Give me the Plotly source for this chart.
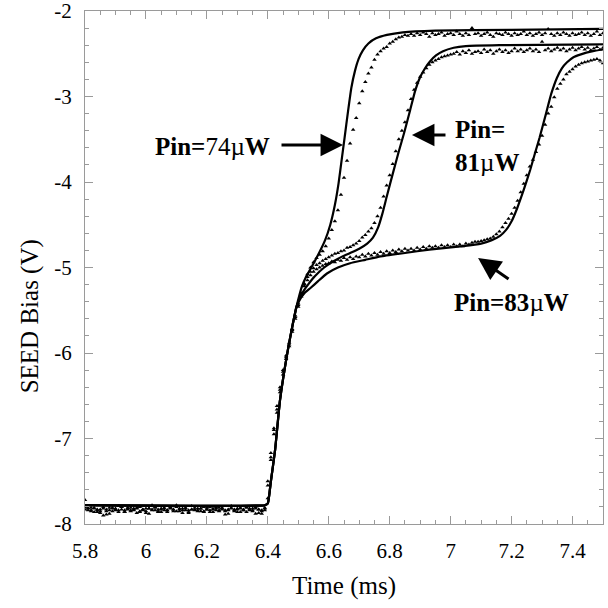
import numpy as np
import plotly.graph_objects as go

# ---- axis ticks -------------------------------------------------------------
X_TICKS = [5.8, 6.0, 6.2, 6.4, 6.6, 6.8, 7.0, 7.2, 7.4]
X_LABELS = ["5.8", "6", "6.2", "6.4", "6.6", "6.8", "7", "7.2", "7.4"]
Y_TICKS = [-8, -7, -6, -5, -4, -3, -2]
Y_LABELS = ["-8", "-7", "-6", "-5", "-4", "-3", "-2"]

# ---- simulated switching curves (solid lines) -------------------------------
# common turn-on edge shared by all three input powers
edge_t = [5.80, 6.39, 6.40, 6.41, 6.424, 6.44, 6.466, 6.482, 6.494]
edge_v = [-7.78, -7.78, -7.76, -7.50, -7.13, -6.55, -5.96, -5.66, -5.46]

sim74_t = edge_t + [6.503, 6.512, 6.524, 6.538, 6.561, 6.588, 6.605, 6.620, 6.632,
                    6.642, 6.652, 6.663, 6.674, 6.686, 6.698, 6.712, 6.730, 6.755,
                    6.791, 6.843, 6.95, 7.20, 7.50]
sim74_v = edge_v + [-5.33, -5.22, -5.12, -5.03, -4.88, -4.68, -4.50, -4.27, -4.02,
                    -3.75, -3.48, -3.18, -2.90, -2.70, -2.56, -2.46, -2.38, -2.32,
                    -2.28, -2.25, -2.23, -2.22, -2.21]

sim81_t = edge_t + [6.506, 6.518, 6.532, 6.555, 6.585, 6.614, 6.645, 6.67, 6.70,
                    6.726, 6.745, 6.762, 6.776, 6.791, 6.811, 6.830, 6.847, 6.867,
                    6.883, 6.899, 6.916, 6.932, 6.952, 6.975, 7.01, 7.05, 7.16, 7.50]
sim81_v = edge_v + [-5.35, -5.27, -5.20, -5.10, -5.00, -4.93, -4.87, -4.83, -4.78,
                    -4.72, -4.65, -4.53, -4.37, -4.16, -3.89, -3.64, -3.43, -3.16,
                    -2.94, -2.78, -2.67, -2.59, -2.52, -2.47, -2.43, -2.41, -2.40, -2.39]

sim83_t = edge_t + [6.506, 6.520, 6.540, 6.565, 6.594, 6.63, 6.67, 6.72, 6.77,
                    6.85, 6.93, 7.04, 7.10, 7.135, 7.162, 7.182, 7.200, 7.218, 7.240,
                    7.261, 7.277, 7.292, 7.313, 7.330, 7.349, 7.365, 7.382, 7.403,
                    7.425, 7.467, 7.50]
sim83_v = edge_v + [-5.37, -5.30, -5.24, -5.16, -5.07, -5.00, -4.95, -4.91, -4.87,
                    -4.83, -4.79, -4.75, -4.72, -4.68, -4.63, -4.56, -4.46, -4.31,
                    -4.09, -3.86, -3.66, -3.48, -3.20, -2.97, -2.78, -2.67, -2.60,
                    -2.54, -2.51, -2.47, -2.45]

# ---- measured traces (triangles), sampled every 0.01 ms from 5.80 ms ---------
T0, DT = 5.80, 0.01

meas74_base = [
    -7.72, -7.82, -7.84, -7.81, -7.86, -7.83, -7.80, -7.85, -7.88, -7.82,
    -7.84, -7.79, -7.83, -7.86, -7.81, -7.84, -7.82, -7.87, -7.80, -7.83,
    -7.85, -7.82, -7.78, -7.84, -7.86, -7.83, -7.81, -7.84, -7.82, -7.85,
    -7.80, -7.83, -7.87, -7.82, -7.84, -7.79, -7.83, -7.85, -7.82, -7.86,
    -7.81, -7.84, -7.83, -7.80, -7.85, -7.82, -7.84, -7.88, -7.81, -7.83,
    -7.86, -7.82, -7.84, -7.80, -7.83, -7.85, -7.82, -7.87, -7.84, -7.82]
meas74_rise = [
    -7.70, -7.22, -6.90, -6.66, -6.43, -6.22, -6.05, -5.90, -5.72, -5.56, -5.42, -5.30,
    -5.19, -5.08, -5.00, -4.94, -4.89, -4.85, -4.81, -4.75, -4.66, -4.56,
    -4.46, -4.33, -4.15, -3.95, -3.75, -3.55, -3.39, -3.25, -3.08, -2.94,
    -2.83, -2.73, -2.66, -2.57, -2.51, -2.47, -2.44, -2.42, -2.38, -2.36,
    -2.33, -2.31, -2.30, -2.28, -2.29]
meas74_top = [
    -2.27, -2.29, -2.26, -2.28, -2.25, -2.27, -2.30, -2.26, -2.28, -2.27,
    -2.25, -2.29, -2.27, -2.26, -2.28, -2.24, -2.27, -2.29, -2.26, -2.28,
    -2.20, -2.27, -2.26, -2.29, -2.27, -2.25, -2.28, -2.30, -2.26, -2.27,
    -2.28, -2.25, -2.27, -2.29, -2.26, -2.28, -2.27, -2.24, -2.28, -2.26,
    -2.29, -2.27, -2.25, -2.28, -2.26, -2.21, -2.27, -2.29, -2.26, -2.28,
    -2.25, -2.27, -2.29, -2.26, -2.28, -2.27, -2.25, -2.28, -2.26, -2.29,
    -2.27, -2.24, -2.28, -2.26]

meas81_base = [
    -7.80, -7.84, -7.81, -7.86, -7.83, -7.85, -7.82, -7.89, -7.84, -7.81,
    -7.83, -7.86, -7.80, -7.84, -7.82, -7.85, -7.83, -7.81, -7.86, -7.84,
    -7.82, -7.88, -7.83, -7.80, -7.85, -7.82, -7.84, -7.86, -7.81, -7.83,
    -7.78, -7.85, -7.82, -7.84, -7.87, -7.83, -7.81, -7.84, -7.82, -7.85,
    -7.83, -7.80, -7.86, -7.82, -7.84, -7.81, -7.85, -7.83, -7.79, -7.84,
    -7.82, -7.86, -7.83, -7.81, -7.84, -7.82, -7.88, -7.83, -7.85, -7.81]
meas81_rise = [
    -7.55, -7.17, -6.88, -6.62, -6.40, -6.20, -6.03, -5.88, -5.73, -5.58, -5.44, -5.32,
    -5.20, -5.11, -5.05, -5.01, -4.97, -4.95, -4.92, -4.90, -4.88, -4.86,
    -4.84, -4.83, -4.81, -4.80, -4.77, -4.76, -4.74, -4.72, -4.69, -4.65,
    -4.62, -4.58, -4.54, -4.48, -4.40, -4.30, -4.17, -4.04, -3.92, -3.79,
    -3.64, -3.50, -3.40, -3.30, -3.16, -3.03, -2.92, -2.84, -2.77, -2.72,
    -2.67, -2.63, -2.60, -2.58, -2.56, -2.54, -2.53, -2.52, -2.51]
meas81_top = [
    -2.50, -2.48, -2.51, -2.47, -2.49, -2.46, -2.50, -2.48, -2.47, -2.49,
    -2.45, -2.48, -2.46, -2.50, -2.47, -2.45, -2.48, -2.46, -2.49, -2.47,
    -2.44, -2.47, -2.45, -2.48, -2.46, -2.44, -2.47, -2.45, -2.48, -2.36,
    -2.46, -2.44, -2.47, -2.45, -2.43, -2.46, -2.44, -2.47, -2.45, -2.43,
    -2.46, -2.44, -2.42, -2.45, -2.43, -2.46, -2.44, -2.42, -2.45, -2.43]

meas83_base = [
    -7.83, -7.81, -7.85, -7.82, -7.84, -7.87, -7.90, -7.83, -7.81, -7.85,
    -7.82, -7.84, -7.80, -7.86, -7.83, -7.81, -7.84, -7.82, -7.85, -7.83,
    -7.87, -7.82, -7.84, -7.81, -7.83, -7.86, -7.82, -7.84, -7.80, -7.83,
    -7.85, -7.82, -7.84, -7.81, -7.86, -7.83, -7.84, -7.82, -7.85, -7.80,
    -7.83, -7.86, -7.82, -7.84, -7.81, -7.83, -7.89, -7.84, -7.82, -7.85,
    -7.83, -7.81, -7.84, -7.86, -7.82, -7.84, -7.80, -7.83, -7.88, -7.84]
meas83_rise = [
    -7.50, -7.25, -6.95, -6.70, -6.46, -6.25, -6.07, -5.92, -5.75, -5.60, -5.46, -5.34,
    -5.22, -5.15, -5.09, -5.05, -5.02, -5.00, -4.98, -4.96, -4.95, -4.93,
    -4.94, -4.91, -4.92, -4.89, -4.91, -4.88, -4.90, -4.87, -4.88, -4.85,
    -4.87, -4.84, -4.86, -4.83, -4.85, -4.82, -4.84, -4.81, -4.83, -4.80,
    -4.82, -4.79, -4.81, -4.78, -4.80, -4.78, -4.80, -4.77, -4.79, -4.76,
    -4.78, -4.75, -4.77, -4.75, -4.77, -4.74, -4.76, -4.74, -4.76, -4.73,
    -4.75, -4.73, -4.75, -4.72, -4.73, -4.71, -4.70, -4.70, -4.69, -4.68,
    -4.67, -4.66, -4.64, -4.61, -4.58, -4.53, -4.48, -4.43, -4.37, -4.30,
    -4.22, -4.12, -4.02, -3.92, -3.82, -3.74, -3.65, -3.56, -3.46, -3.33,
    -3.20, -3.12, -3.01, -2.91, -2.85, -2.80, -2.74, -2.71, -2.68, -2.65,
    -2.63, -2.61, -2.60, -2.59, -2.58, -2.57, -2.56, -2.58, -2.61]

meas74 = meas74_base + meas74_rise + meas74_top
meas81 = meas81_base + meas81_rise + meas81_top
meas83 = meas83_base + meas83_rise


def sample_times(values):
    return np.round(T0 + DT * np.arange(len(values)), 2)


AXIS_GREY = "#9a9a9a"
SERIF = "Liberation Serif"

fig = go.Figure()

for t, v in ((sim74_t, sim74_v), (sim81_t, sim81_v), (sim83_t, sim83_v)):
    fig.add_trace(go.Scatter(
        x=t, y=v, mode="lines",
        line=dict(color="black", width=2.2, shape="spline", smoothing=0.4),
        hoverinfo="skip"))

for v in (meas74, meas81, meas83):
    fig.add_trace(go.Scatter(
        x=sample_times(v), y=v, mode="markers",
        marker=dict(symbol="triangle-up", size=4, color="black", line=dict(width=0)),
        hoverinfo="skip"))

# ---- labels and arrows ------------------------------------------------------
label_font = dict(family=SERIF, size=25, color="black")
arrow_style = dict(showarrow=True, arrowhead=2, arrowsize=1.5, arrowwidth=3,
                   arrowcolor="black", axref="x", ayref="y", text="",
                   standoff=0, startstandoff=0)

fig.add_annotation(x=6.647, y=-3.567, ax=6.440, ay=-3.567, **arrow_style)
fig.add_annotation(x=6.873, y=-3.45, ax=6.988, ay=-3.45, **arrow_style)
fig.add_annotation(x=7.090, y=-4.889, ax=7.195, ay=-5.146, **arrow_style)

fig.add_annotation(x=6.220, y=-3.59, text="<b>Pin=</b>74µ<b>W</b>",
                   showarrow=False, font=label_font)
fig.add_annotation(x=7.008, y=-3.58, text="<b>Pin=</b><br><b>81</b>µ<b>W</b>",
                   showarrow=False, font=label_font, xanchor="left", align="left")
fig.add_annotation(x=7.201, y=-5.415, text="<b>Pin=83</b>µ<b>W</b>",
                   showarrow=False, font=label_font)

# vertical axis caption, set a little below the middle of the axis
fig.add_annotation(xref="paper", yref="paper", x=-0.106, y=0.405,
                   xanchor="center", yanchor="middle",
                   text="SEED Bias (V)", textangle=-90, showarrow=False,
                   font=dict(family=SERIF, size=25, color="black"))

axis_common = dict(
    ticks="inside", ticklen=8, tickwidth=1, tickcolor=AXIS_GREY,
    showline=True, linecolor=AXIS_GREY, linewidth=1, mirror="allticks",
    showgrid=False, zeroline=False, automargin=False,
    tickfont=dict(family=SERIF, size=21, color="black"),
    ticklabelstandoff=8, ticklabeloverflow="allow",
)

fig.update_xaxes(
    range=[5.8, 7.5], tickmode="array", tickvals=X_TICKS, ticktext=X_LABELS,
    minor=dict(ticks="inside", ticklen=4, tickcolor=AXIS_GREY,
               tickmode="array", tickvals=list(np.round(np.arange(5.8, 7.5001, 0.05), 2))),
    title=dict(text="Time (ms)", font=dict(family=SERIF, size=25, color="black"), standoff=14),
    **axis_common)
fig.update_yaxes(
    range=[-8, -2], tickmode="array", tickvals=Y_TICKS, ticktext=Y_LABELS,
    minor=dict(ticks="inside", ticklen=4, tickcolor=AXIS_GREY,
               tickmode="array", tickvals=list(np.round(np.arange(-8, -1.999, 0.2), 2))),
    **axis_common)

fig.update_layout(
    width=608, height=608,
    margin=dict(l=85, r=5, t=11, b=84),
    plot_bgcolor="white", paper_bgcolor="white",
    showlegend=False,
    font=dict(family=SERIF, color="black"),
)

fig.write_html("out.html")
